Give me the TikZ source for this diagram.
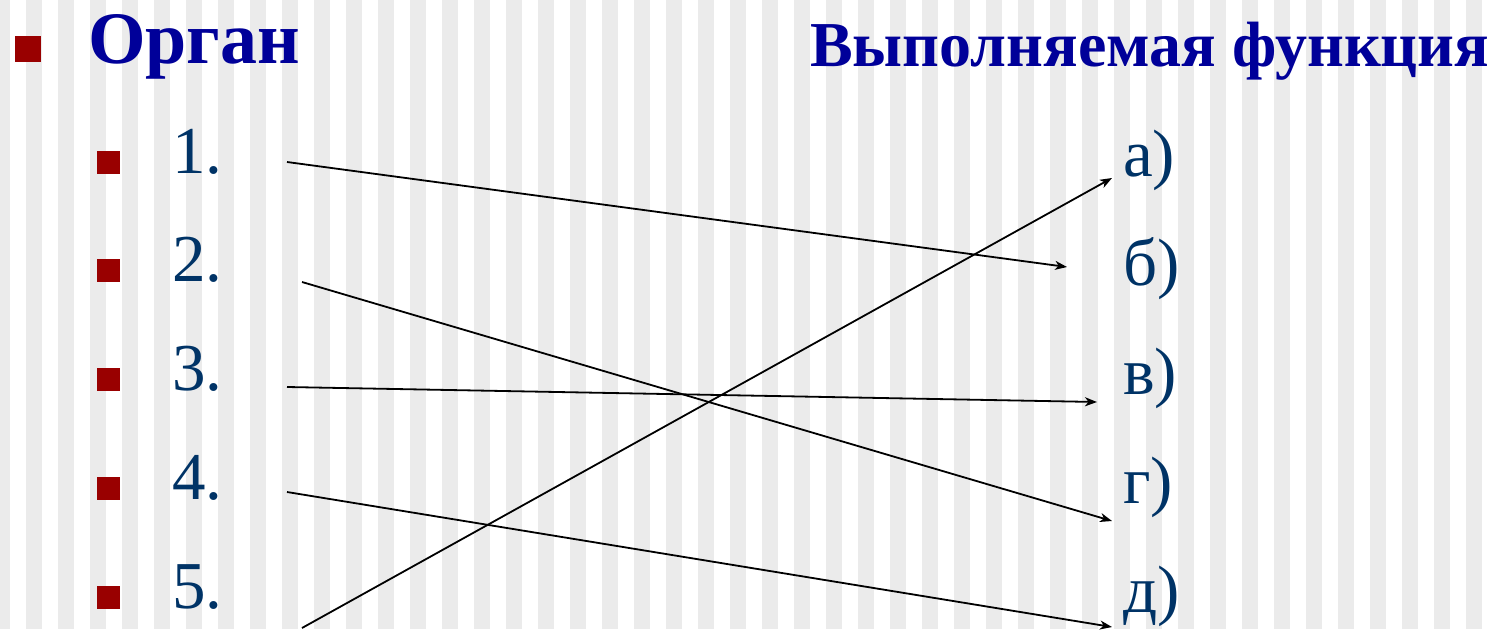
\documentclass[tikz,border=0pt]{standalone}
\usepackage{fontspec}
\setmainfont{Liberation Serif}
\usepackage{xcolor}
\usetikzlibrary{arrows.meta}
\definecolor{titleblue}{RGB}{0,0,153}
\definecolor{itemblue}{RGB}{0,51,102}
\definecolor{bulletred}{RGB}{153,0,0}
\definecolor{stripegrey}{RGB}{235,235,235}
\begin{document}
\begin{tikzpicture}[
  x=1pt, y=-1pt,
  title/.style={anchor=base west, inner sep=0pt, text=titleblue, font=\fontsize{74}{74}\selectfont\bfseries},
  item/.style={anchor=base west, inner sep=0pt, text=itemblue, font=\fontsize{67}{67}\selectfont},
  bigbullet/.style={fill=bulletred},
  arrow/.style={-{Stealth[length=12pt, width=9pt, inset=3.5pt]}, line width=1.8pt}
]
  \useasboundingbox (0,0) rectangle (1495,629);
  \begin{scope}
    \clip (0,0) rectangle (1495,629);
    \foreach \i in {0,...,47}
      \fill[stripegrey] (32*\i-6,0) rectangle ++(16,629);
  \end{scope}

  % Headings
  \fill[bigbullet] (15,36) rectangle (41,62);
  \node[title] (organ) at (88,63) {Орган};
  \node[title, font=\fontsize{64}{64}\selectfont\bfseries] (func) at (810,66) {Выполняемая функция};

  % Organs
  \foreach \n [count=\k from 0] in {1,...,5} {
    \fill[bigbullet] (97,150.5+108.75*\k) rectangle ++(23,23);
    \node[item] (n\n) at (172,173+108.75*\k) {\n.};
  }

  % Functions
  \foreach \l/\t [count=\k from 0] in {a/а,b/б,v/в,g/г,d/д}
    \node[item] (f\l) at (1123,176+109*\k) {\t)};

  \coordinate (s1) at (287,162);
  \coordinate (s2) at (302,282);
  \coordinate (s3) at (287,387);
  \coordinate (s4) at (287,492);
  \coordinate (s5) at (302,628);
  \coordinate (ea) at (1112,178);
  \coordinate (eb) at (1067,267);
  \coordinate (ev) at (1097,402);
  \coordinate (eg) at (1112,521);
  \coordinate (ed) at (1112,627);

  \draw[arrow] (s1) -- (eb);
  \draw[arrow] (s2) -- (eg);
  \draw[arrow] (s3) -- (ev);
  \draw[arrow] (s4) -- (ed);
  \draw[arrow] (s5) -- (ea);
\end{tikzpicture}
\end{document}
